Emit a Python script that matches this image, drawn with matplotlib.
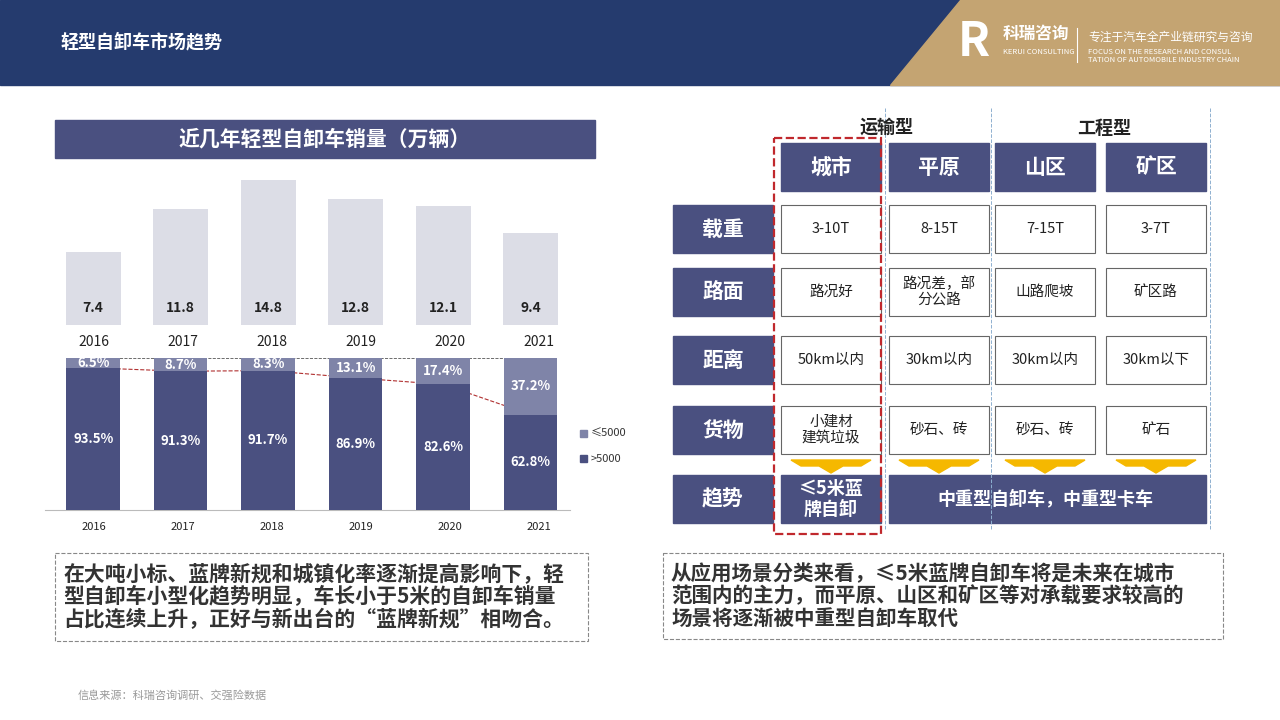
import matplotlib
matplotlib.use("Agg")
import matplotlib.pyplot as plt
from matplotlib.patches import Rectangle, Polygon
import numpy as np

plt.rcParams["font.family"] = "Noto Sans CJK SC"

years = ["2016", "2017", "2018", "2019", "2020", "2021"]
sales = [7.4, 11.8, 14.8, 12.8, 12.1, 9.4]
share_big = [93.5, 91.3, 91.7, 86.9, 82.6, 62.8]
share_small = [6.5, 8.7, 8.3, 13.1, 17.4, 37.2]

cols = ["城市", "平原", "山区", "矿区"]
rows = ["载重", "路面", "距离", "货物"]
cells = [["3-10T", "8-15T", "7-15T", "3-7T"],
         ["路况好", "路况差，部\n分公路", "山路爬坡", "矿区路"],
         ["50km以内", "30km以内", "30km以内", "30km以下"],
         ["小建材\n建筑垃圾", "砂石、砖", "砂石、砖", "矿石"]]

NAVY = "#4a5080"
LIGHT = "#7f84a8"
GRAY = "#dcdde6"

fig = plt.figure(figsize=(12.8, 7.2), dpi=100)
bg = fig.add_axes([0, 0, 1, 1])
bg.set_xlim(0, 1280); bg.set_ylim(720, 0); bg.axis("off")

# header
bg.add_patch(Rectangle((0, 0), 1280, 85, color="#253b6e"))
bg.add_patch(Polygon([(960, 0), (1280, 0), (1280, 85), (890, 85)], color="#c4a472"))
bg.text(60, 42, "轻型自卸车市场趋势", color="white", fontsize=13, fontweight="bold", va="center")
bg.text(958, 42, "R", color="white", fontsize=34, fontweight="bold", va="center")
bg.text(1003, 34, "科瑞咨询", color="white", fontsize=12, fontweight="bold", va="center")
bg.text(1003, 52, "KERUI CONSULTING", color="white", fontsize=5.5, va="center")
bg.plot([1077, 1077], [28, 62], color="white", lw=0.8)
bg.text(1088, 37, "专注于汽车全产业链研究与咨询", color="white", fontsize=8.5, va="center")
bg.text(1088, 52, "FOCUS ON THE RESEARCH AND CONSUL", color="white", fontsize=5.5, va="center")
bg.text(1088, 60, "TATION OF AUTOMOBILE INDUSTRY CHAIN", color="white", fontsize=5.5, va="center")

# left title
bg.add_patch(Rectangle((55, 120), 540, 38, color=NAVY))
bg.text(325, 139, "近几年轻型自卸车销量（万辆）", color="white", fontsize=15, fontweight="bold", ha="center", va="center")

# top bar chart
ax1 = fig.add_axes([45/1280, 1-325/720, 525/1280, (325-170)/720])
x = np.arange(len(years))
ax1.bar(x, sales, width=0.63, color=GRAY)
for i, v in enumerate(sales):
    ax1.text(i, 1.7, f"{v}", ha="center", va="center", fontsize=10, fontweight="bold", color="#222")
ax1.set_xlim(-0.55, 5.45); ax1.set_ylim(0, 15.8)
ax1.axis("off")
for i, y in enumerate(years):
    bg.text(94 + i*89, 342, y, ha="center", va="center", fontsize=10, color="#222")

# stacked chart
ax2 = fig.add_axes([45/1280, 1-510/720, 525/1280, (510-358)/720])
ax2.bar(x, share_big, width=0.61, color=NAVY)
ax2.bar(x, share_small, bottom=share_big, width=0.61, color=LIGHT)
for i in range(len(years)):
    ax2.text(i, share_big[i]/2, f"{share_big[i]}%", ha="center", va="center", color="white", fontsize=9.5, fontweight="bold")
    ax2.text(i, share_big[i] + share_small[i]/2, f"{share_small[i]}%", ha="center", va="center", color="white", fontsize=9.5, fontweight="bold")
ax2.plot(x, share_big, ls="--", color="#b03030", lw=0.8, zorder=0)
ax2.plot([x[0], x[-1]], [100, 100], ls="--", color="#555", lw=0.6, zorder=0)
ax2.set_xlim(-0.55, 5.45); ax2.set_ylim(0, 100)
ax2.axis("off")
bg.plot([45, 570], [510, 510], color="#bbb", lw=0.8)
for i, y in enumerate(years):
    bg.text(94 + i*89, 527, y, ha="center", va="center", fontsize=8, color="#222")
bg.add_patch(Rectangle((580, 430), 7, 7, color=LIGHT))
bg.text(591, 434, "≤5000", fontsize=8, va="center", color="#333")
bg.add_patch(Rectangle((580, 455), 7, 7, color=NAVY))
bg.text(591, 459, ">5000", fontsize=8, va="center", color="#333")

# left text box
bg.add_patch(Rectangle((55, 553), 533, 88, fill=False, ec="#888", ls="--", lw=0.8))
bg.text(63, 597, "在大吨小标、蓝牌新规和城镇化率逐渐提高影响下，轻\n型自卸车小型化趋势明显，车长小于5米的自卸车销量\n占比连续上升，正好与新出台的“蓝牌新规”相吻合。",
        fontsize=15, fontweight="bold", color="#333", va="center", linespacing=1.1)

# right table
colx = [781, 889, 995, 1106]
cw = 100
bg.text(887, 127, "运输型", fontsize=13, fontweight="bold", ha="center", va="center", color="#222")
bg.text(1104, 129, "工程型", fontsize=13, fontweight="bold", ha="center", va="center", color="#222")
for xv in [885, 991, 1210]:
    bg.plot([xv, xv], [108, 530], ls="--", color="#8fb0d0", lw=0.7)
for j, c in enumerate(cols):
    bg.add_patch(Rectangle((colx[j], 143), cw, 48, color=NAVY))
    bg.text(colx[j]+cw/2, 167, c, color="white", fontsize=15, fontweight="bold", ha="center", va="center")
rowy = [205, 268, 336, 406]
rh = 48
for i, r in enumerate(rows):
    bg.add_patch(Rectangle((673, rowy[i]), 100, rh, color=NAVY))
    bg.text(723, rowy[i]+rh/2, r, color="white", fontsize=15, fontweight="bold", ha="center", va="center")
    for j in range(4):
        bg.add_patch(Rectangle((colx[j], rowy[i]), cw, rh, fill=False, ec="#666", lw=0.8))
        bg.text(colx[j]+cw/2, rowy[i]+rh/2, cells[i][j], fontsize=10.5, ha="center", va="center", color="#222", linespacing=1.2)
for j in range(4):
    cx = colx[j] + cw/2
    bg.add_patch(Polygon([(cx-40, 460), (cx+40, 460), (cx+30, 466), (cx+12, 466), (cx, 473), (cx-12, 466), (cx-30, 466)], color="#f5b800"))
bg.add_patch(Rectangle((673, 475), 100, 48, color=NAVY))
bg.text(723, 499, "趋势", color="white", fontsize=15, fontweight="bold", ha="center", va="center")
bg.add_patch(Rectangle((781, 475), 100, 48, color=NAVY))
bg.text(831, 499, "≤5米蓝\n牌自卸", color="white", fontsize=13, fontweight="bold", ha="center", va="center", linespacing=1.1)
bg.add_patch(Rectangle((889, 475), 317, 48, color=NAVY))
bg.text(1045, 499, "中重型自卸车，中重型卡车", color="white", fontsize=13, fontweight="bold", ha="center", va="center")
bg.add_patch(Rectangle((774, 138), 107, 396, fill=False, ec="#c0282d", ls="--", lw=1.6))

# right text box
bg.add_patch(Rectangle((663, 553), 560, 86, fill=False, ec="#888", ls="--", lw=0.8))
bg.text(671, 596, "从应用场景分类来看，≤5米蓝牌自卸车将是未来在城市\n范围内的主力，而平原、山区和矿区等对承载要求较高的\n场景将逐渐被中重型自卸车取代",
        fontsize=14.8, fontweight="bold", color="#333", va="center", linespacing=1.1)

bg.text(78, 696, "信息来源：科瑞咨询调研、交强险数据", fontsize=8, color="#999", va="center")

fig.savefig("out.png", dpi=100)
